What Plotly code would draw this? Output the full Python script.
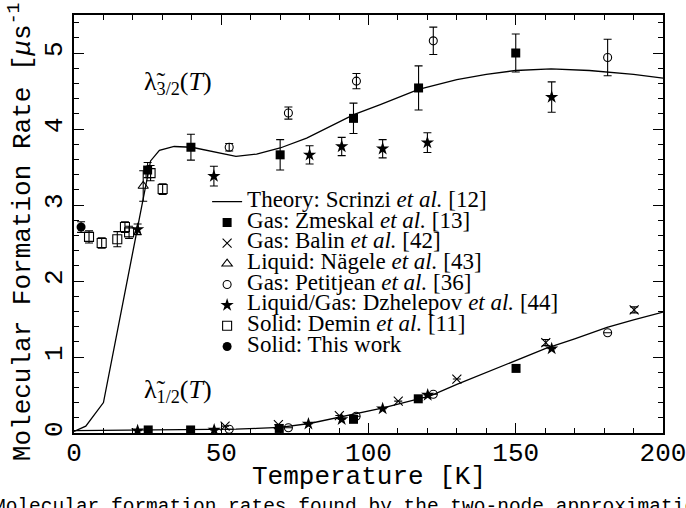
import plotly.graph_objects as go

# ---------------- data ----------------
theory_up_T = [0, 4, 10, 26, 29, 34, 40, 47, 55, 62, 70, 79, 88, 95, 104, 110, 117, 130, 140, 150, 162, 175, 190, 200]
theory_up_v = [0.02, 0.09, 0.40, 3.58, 3.72, 3.77, 3.76, 3.70, 3.64, 3.67, 3.75, 3.88, 4.05, 4.19, 4.32, 4.41, 4.52,
               4.65, 4.72, 4.77, 4.79, 4.77, 4.72, 4.67]
theory_lo_T = [0, 20, 40, 55, 62, 70, 80, 90, 95, 105, 112, 118, 121, 130, 140, 150, 160, 170, 181, 190, 200]
theory_lo_v = [0.03, 0.035, 0.04, 0.05, 0.06, 0.075, 0.125, 0.21, 0.25, 0.33, 0.40, 0.46, 0.49, 0.64, 0.80, 0.96,
               1.11, 1.24, 1.39, 1.49, 1.59]

zmeskal_T = [25, 39.7, 70, 94.9, 117, 150, 25.2, 39.6, 69.7, 94.9, 116.9, 150.1]
zmeskal_v = [3.46, 3.76, 3.66, 4.14, 4.54, 5.0, 0.04, 0.04, 0.06, 0.18, 0.45, 0.85]
zmeskal_e = [0.1, 0.17, 0.2, 0.2, 0.29, 0.25, 0.01, 0.01, 0.02, 0.02, 0.02, 0.04]

balin_T = [51.3, 69.4, 90.1, 110.1, 130, 160.2, 190.2]
balin_v = [0.09, 0.11, 0.23, 0.42, 0.71, 1.19, 1.62]
balin_e = [0, 0, 0, 0, 0, 0.04, 0.04]

nagele_T = [23.5]
nagele_v = [3.25]
nagele_e = [0.2]

petit_T = [52.7, 72.8, 95.9, 122, 181.2, 52.7, 72.8, 95.8, 122, 181.2]
petit_v = [3.76, 4.21, 4.63, 5.16, 4.94, 0.05, 0.07, 0.22, 0.51, 1.32]
petit_e = [0.05, 0.08, 0.1, 0.18, 0.24, 0, 0, 0, 0, 0]

dzhel_T = [21.6, 47.5, 80, 90.9, 104.8, 120, 162.2, 21.6, 47.6, 79.6, 90.9, 104.8, 120.1, 162.2]
dzhel_v = [2.68, 3.38, 3.66, 3.77, 3.74, 3.82, 4.42, 0.03, 0.04, 0.12, 0.18, 0.32, 0.50, 1.11]
dzhel_e = [0.07, 0.13, 0.12, 0.12, 0.12, 0.13, 0.2, 0, 0, 0, 0, 0, 0, 0]

demin_T = [5.1, 9.4, 14.7, 17.3, 18.7, 26, 30.1]
demin_v = [2.58, 2.50, 2.55, 2.71, 2.64, 3.42, 3.21]
demin_e = [0.08, 0.07, 0.1, 0.07, 0.08, 0.1, 0.07]

thiswork_T = [2.4]
thiswork_v = [2.71]
thiswork_e = [0.07]

x_ticks = [0, 50, 100, 150, 200]
y_ticks = [0, 1, 2, 3, 4, 5]

# ---------------- figure ----------------
SERIF = "Liberation Serif"
MONO = "Liberation Mono"
LEG_SPAN = '<span style="font-size:23px">{}</span>'


def err(arr):
    return dict(type="data", array=arr, visible=True, color="black", thickness=1.1, width=4)


fig = go.Figure()

fig.add_trace(go.Scatter(x=theory_up_T, y=theory_up_v, mode="lines", line=dict(color="black", width=1.3),
                         name=LEG_SPAN.format("Theory: Scrinzi <i>et al.</i> [12]"), legendgroup="th"))
fig.add_trace(go.Scatter(x=theory_lo_T, y=theory_lo_v, mode="lines", line=dict(color="black", width=1.3),
                         showlegend=False, legendgroup="th"))

fig.add_trace(go.Scatter(x=zmeskal_T, y=zmeskal_v, error_y=err(zmeskal_e), mode="markers",
                         marker=dict(symbol="square", size=9, color="black"),
                         name=LEG_SPAN.format("Gas: Zmeskal <i>et al.</i> [13]")))
fig.add_trace(go.Scatter(x=balin_T, y=balin_v, error_y=err(balin_e), mode="markers",
                         marker=dict(symbol="x-thin-open", size=9, color="black", line=dict(width=1.1, color="black")),
                         name=LEG_SPAN.format("Gas: Balin <i>et al.</i> [42]")))
fig.add_trace(go.Scatter(x=nagele_T, y=nagele_v, error_y=err(nagele_e), mode="markers",
                         marker=dict(symbol="triangle-up-open", size=9, color="black", line=dict(width=1.1)),
                         name=LEG_SPAN.format("Liquid: Nägele <i>et al.</i> [43]")))
fig.add_trace(go.Scatter(x=petit_T, y=petit_v, error_y=err(petit_e), mode="markers",
                         marker=dict(symbol="circle-open", size=8, color="black", line=dict(width=1.1)),
                         name=LEG_SPAN.format("Gas: Petitjean <i>et al.</i> [36]")))
fig.add_trace(go.Scatter(x=dzhel_T, y=dzhel_v, error_y=err(dzhel_e), mode="markers",
                         marker=dict(symbol="star", size=10, color="black"),
                         name=LEG_SPAN.format("Liquid/Gas: Dzhelepov <i>et al.</i> [44]")))
fig.add_trace(go.Scatter(x=demin_T, y=demin_v, error_y=err(demin_e), mode="markers",
                         marker=dict(symbol="square-open", size=9, color="black", line=dict(width=1.1)),
                         name=LEG_SPAN.format("Solid: Demin <i>et al.</i> [11]")))
fig.add_trace(go.Scatter(x=thiswork_T, y=thiswork_v, error_y=err(thiswork_e), mode="markers",
                         marker=dict(symbol="circle", size=9, color="black"),
                         name=LEG_SPAN.format("Solid: This work")))

axis_common = dict(showline=True, linecolor="black", linewidth=1.5, mirror="allticks",
                   ticks="inside", ticklen=10, tickwidth=1.2, tickcolor="black",
                   showgrid=False, zeroline=False, ticklabeloverflow="allow", automargin=False,
                   tickfont=dict(family=MONO, size=26, color="black"),
                   title_font=dict(family=MONO, size=26, color="black"))

fig.update_xaxes(range=[0, 200], tickvals=x_ticks, ticktext=[str(v) for v in x_ticks],
                 minor=dict(dtick=10, ticks="inside", ticklen=5, tickwidth=1.1, tickcolor="black"),
                 ticklabelstandoff=-5, **axis_common)
fig.update_yaxes(range=[0, 5.5], tickvals=y_ticks, ticktext=[str(v) for v in y_ticks], tickangle=-90,
                 minor=dict(dtick=0.2, ticks="inside", ticklen=5, tickwidth=1.1, tickcolor="black"),
                 title_text="Molecular Formation Rate [<i>μ</i>s<sup>-1</sup>]", title_standoff=2, **axis_common)

fig.add_annotation(x=23, y=4.61, xref="x", yref="y", xanchor="left", yanchor="middle", showarrow=False,
                   text="λ̃<sub>3/2</sub>(<i>T</i>)", font=dict(family=SERIF, size=26, color="black"))
fig.add_annotation(x=23, y=0.55, xref="x", yref="y", xanchor="left", yanchor="middle", showarrow=False,
                   text="λ̃<sub>1/2</sub>(<i>T</i>)", font=dict(family=SERIF, size=26, color="black"))

# x-axis title and caption placed in pixel terms, converted to paper coordinates
plot_w = 686 - 74 - 23
plot_h = 508 - 15 - 75
fig.add_annotation(x=0.5, y=-(477 - (508 - 75)) / plot_h, xref="paper", yref="paper",
                   xanchor="center", yanchor="middle", showarrow=False,
                   text="Temperature [K]", font=dict(family=MONO, size=26, color="black"))
fig.add_annotation(x=(-8 - 74) / plot_w, y=-(494 - (508 - 75)) / plot_h, xref="paper", yref="paper",
                   xanchor="left", yanchor="top", showarrow=False,
                   text="Molecular formation rates found by the two-node approximation",
                   font=dict(family=MONO, size=19.5, color="black"))

fig.update_layout(
    width=686, height=508,
    margin=dict(l=74, r=23, t=15, b=75),
    paper_bgcolor="white", plot_bgcolor="white",
    showlegend=True,
    legend=dict(x=0.226, y=0.59, xanchor="left", yanchor="top", bgcolor="rgba(0,0,0,0)",
                font=dict(family=SERIF, size=13.6, color="black"), itemwidth=30, tracegroupgap=0),
)

fig.write_html("out.html")
